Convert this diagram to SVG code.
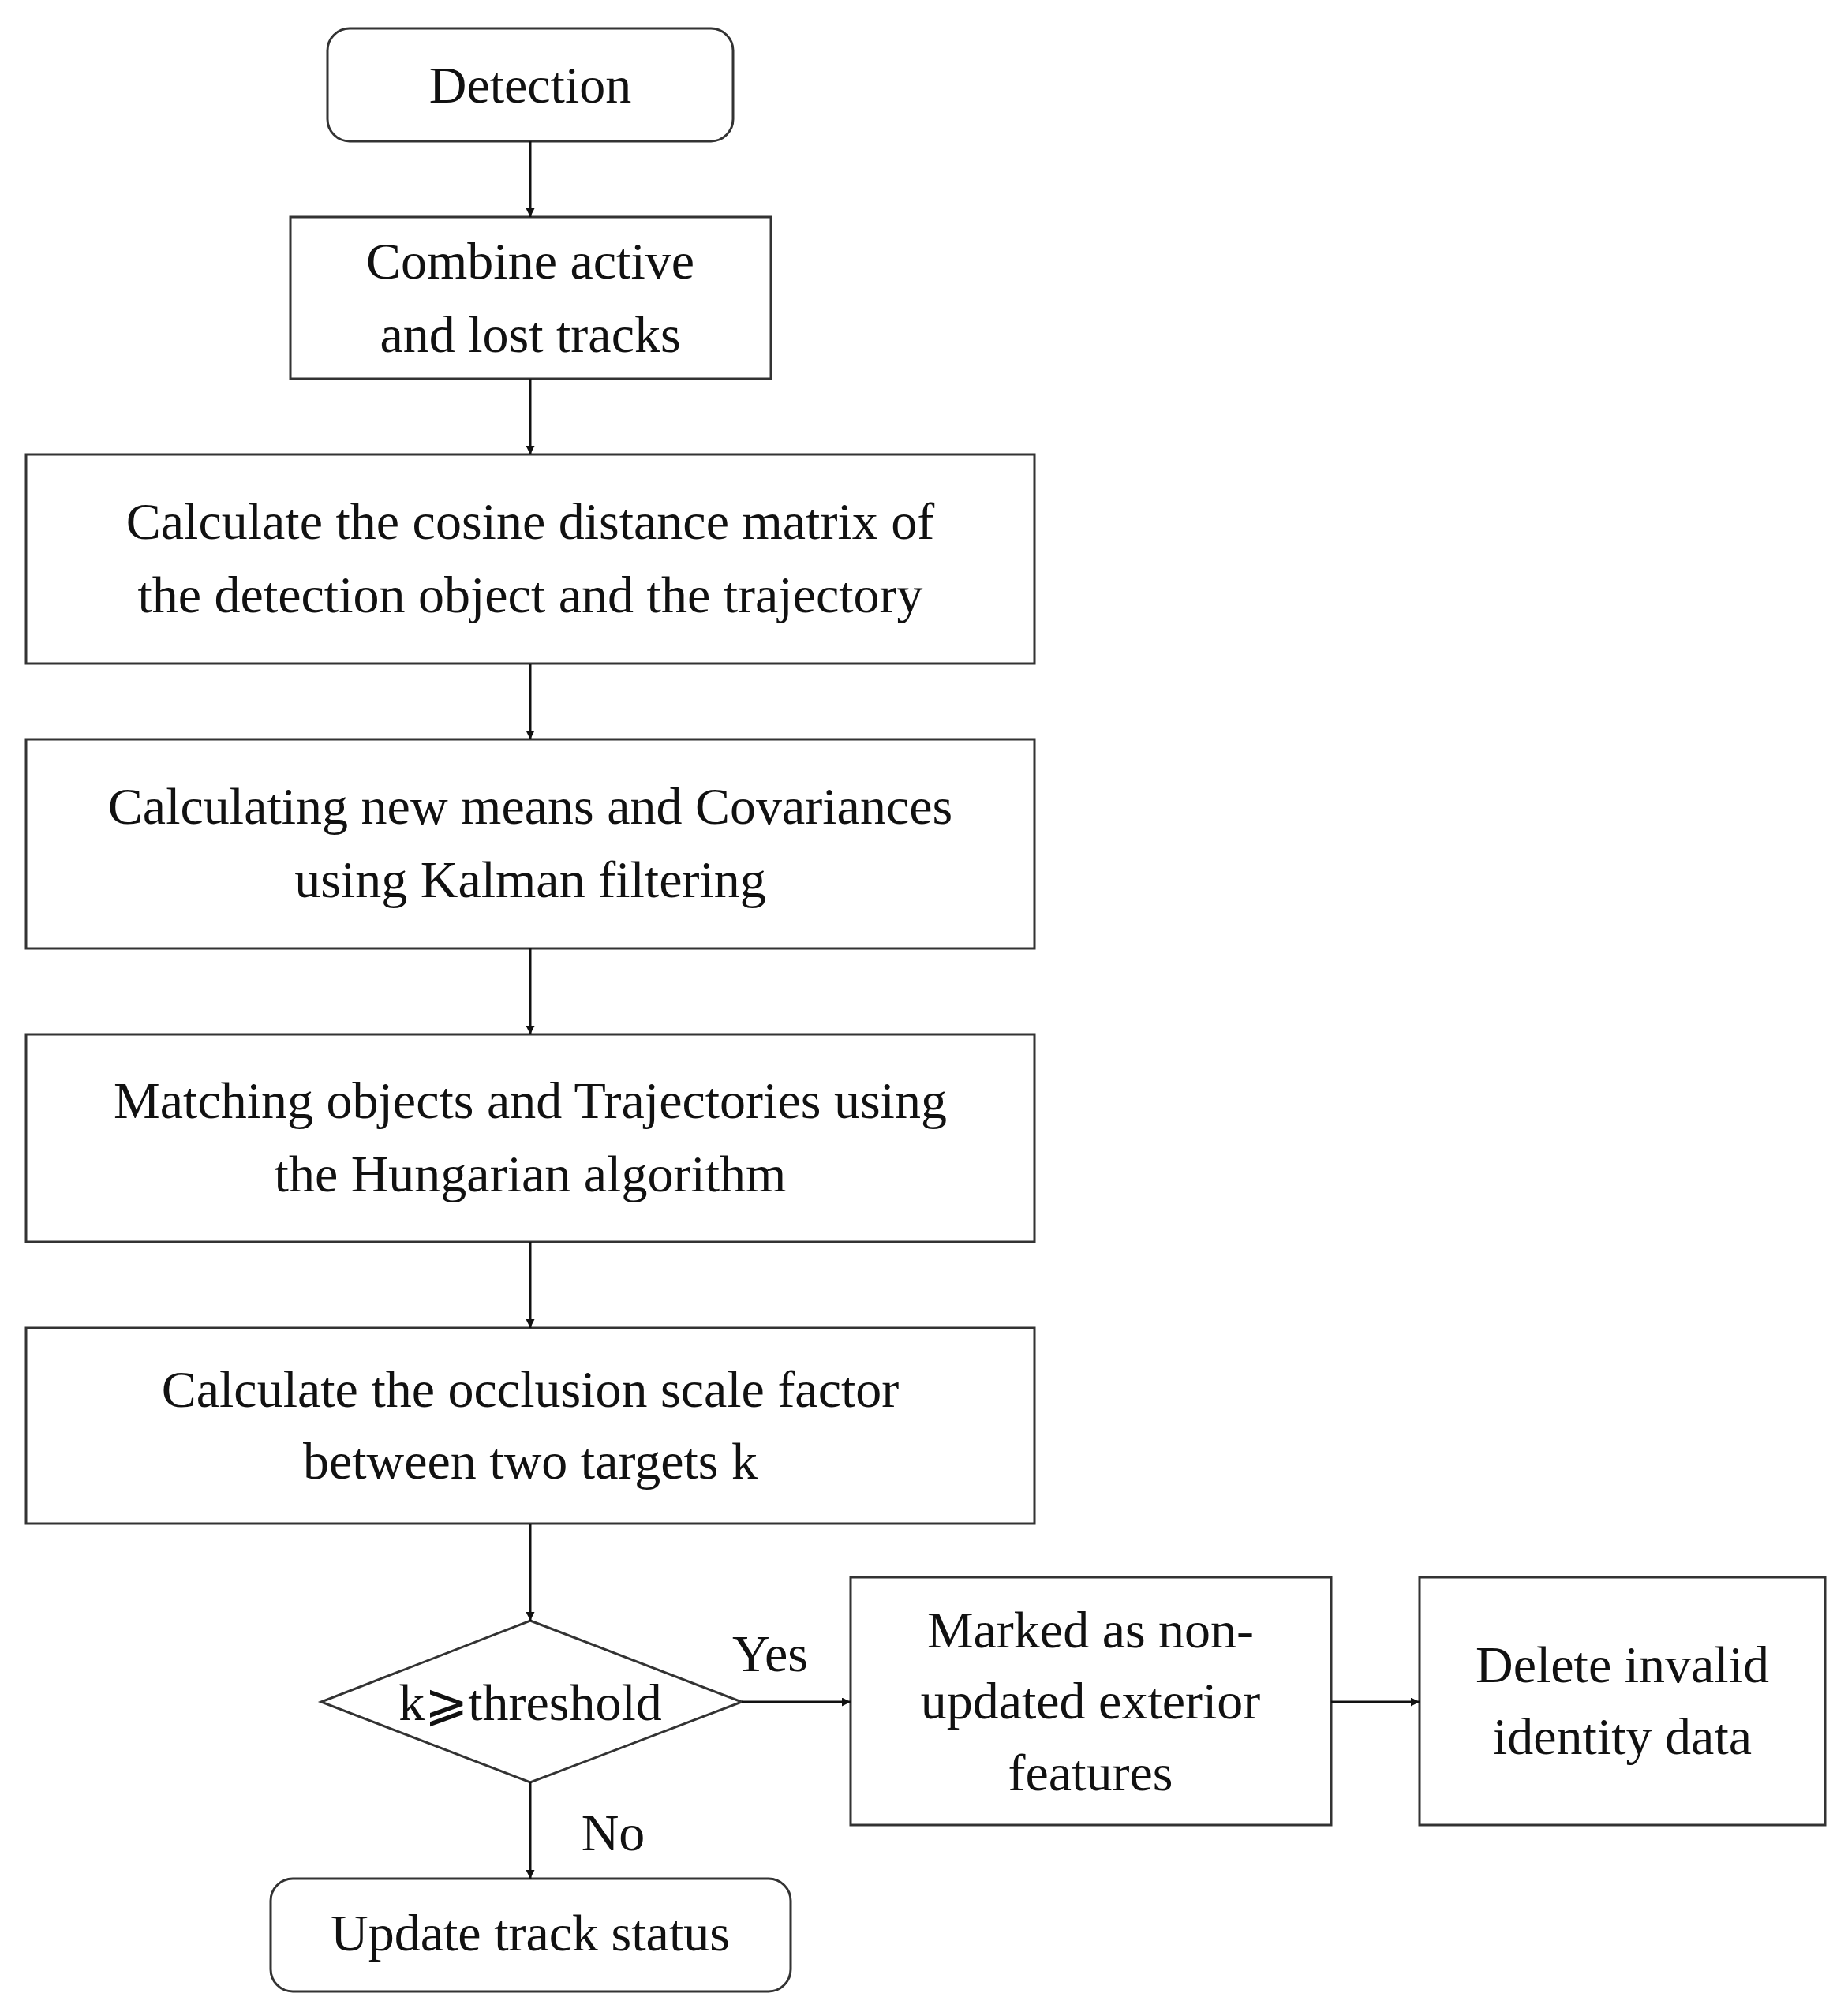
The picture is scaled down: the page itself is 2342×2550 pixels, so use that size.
<svg xmlns="http://www.w3.org/2000/svg" width="2342" height="2550" viewBox="0 0 2342 2550">
<style>
.b{fill:#fff;stroke:#333;stroke-width:3}
text{font-family:"Liberation Serif",serif;font-size:66px;fill:#111;text-anchor:middle;dominant-baseline:central}
.c line{stroke:#111;stroke-width:3}
</style>
<defs><marker id="a" viewBox="0 0 10 10" refX="10" refY="5" markerWidth="11" markerHeight="11" markerUnits="userSpaceOnUse" orient="auto"><path d="M0,0L10,5L0,10z" fill="#111"/></marker></defs>
<rect width="2342" height="2550" fill="#fff"/>
<g id="detection"><rect class="b" x="415" y="36" width="514" height="143" rx="28"/><text x="672" y="107">Detection</text></g>
<g id="combine"><rect class="b" x="368" y="275" width="609" height="205"/><text x="672" y="330">Combine active</text><text x="672" y="423">and lost tracks</text></g>
<g id="cosine"><rect class="b" x="33" y="576" width="1278" height="265"/><text x="672" y="660">Calculate the cosine distance matrix of</text><text x="672" y="753">the detection object and the trajectory</text></g>
<g id="kalman"><rect class="b" x="33" y="937" width="1278" height="265"/><text x="672" y="1021">Calculating new means and Covariances</text><text x="672" y="1114">using Kalman filtering</text></g>
<g id="hungarian"><rect class="b" x="33" y="1311" width="1278" height="263"/><text x="672" y="1394">Matching objects and Trajectories using</text><text x="672" y="1487">the Hungarian algorithm</text></g>
<g id="occlusion"><rect class="b" x="33" y="1683" width="1278" height="248"/><text x="672" y="1760">Calculate the occlusion scale factor</text><text x="672" y="1851">between two targets k</text></g>
<g id="decision"><polygon class="b" points="672,2054 940,2157 672,2259 407,2157"/><text x="672" y="2157">k⩾threshold</text></g>
<g id="marked"><rect class="b" x="1078" y="1999" width="609" height="314"/><text x="1382" y="2065">Marked as non-</text><text x="1382" y="2155">updated exterior</text><text x="1382" y="2246">features</text></g>
<g id="delete"><rect class="b" x="1799" y="1999" width="514" height="314"/><text x="2056" y="2109">Delete invalid</text><text x="2056" y="2200">identity data</text></g>
<g id="update"><rect class="b" x="343" y="2381" width="659" height="143" rx="28"/><text x="672" y="2449">Update track status</text></g>
<g class="c">
<line x1="672" y1="179" x2="672" y2="275" marker-end="url(#a)"/>
<line x1="672" y1="480" x2="672" y2="576" marker-end="url(#a)"/>
<line x1="672" y1="841" x2="672" y2="937" marker-end="url(#a)"/>
<line x1="672" y1="1202" x2="672" y2="1311" marker-end="url(#a)"/>
<line x1="672" y1="1574" x2="672" y2="1683" marker-end="url(#a)"/>
<line x1="672" y1="1931" x2="672" y2="2054" marker-end="url(#a)"/>
<line x1="940" y1="2157" x2="1078" y2="2157" marker-end="url(#a)"/>
<line x1="1687" y1="2157" x2="1799" y2="2157" marker-end="url(#a)"/>
<line x1="672" y1="2259" x2="672" y2="2381" marker-end="url(#a)"/>
<text x="976" y="2095">Yes</text>
<text x="777" y="2322">No</text>
</g>
</svg>
